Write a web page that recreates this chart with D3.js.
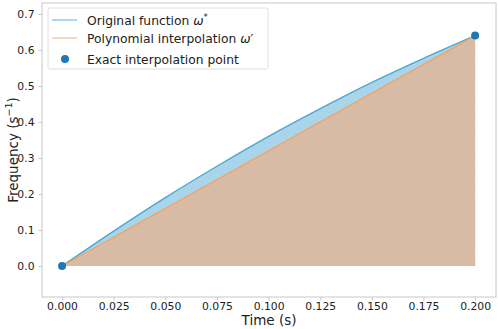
<!DOCTYPE html>
<html lang="en">
<head>
	<meta charset="utf-8">
	<title>Interpolation</title>
	<script src="https://d3js.org/d3.v7.min.js"></script>
	<style>
		body { margin: 0; background: #fff; }
		text { font-family: "DejaVu Sans", sans-serif; }
	</style>
</head>
<body>
	<div id="chart"></div>
	<script>
		// time samples (s) and the original function values
		const times = [0, 0.025, 0.05, 0.075, 0.1, 0.125, 0.15, 0.175, 0.2];
		const original = [0, 0.097, 0.19, 0.277, 0.36, 0.437, 0.51, 0.577, 0.64];
		// polynomial interpolation (through the two exact points)
		const interpTimes = [0, 0.2];
		const interp = [0, 0.64];
		const pointTimes = [0, 0.2];
		const pointValues = [0, 0.64];
		const xTicks = [0, 0.025, 0.05, 0.075, 0.1, 0.125, 0.15, 0.175, 0.2];
		const yTicks = [0, 0.1, 0.2, 0.3, 0.4, 0.5, 0.6, 0.7];

		let width = 498, height = 329;
		let mLeft = 42, mRight = 496, mTop = 3, mBottom = 297;

		let svg = d3.select("#chart").append("svg")
			.attr("width", width)
			.attr("height", height);

		let x = d3.scaleLinear().domain([-0.0097, 0.2101]).range([mLeft, mRight]);
		let y = d3.scaleLinear().domain([-0.0861, 0.7306]).range([mBottom, mTop]);

		let origData = times.map((t, i) => ({ t: t, v: original[i] }));
		let interpData = interpTimes.map((t, i) => ({ t: t, v: interp[i] }));

		// filled areas
		svg.append("path")
			.datum(origData)
			.attr("fill", "#a9d4ea")
			.attr("d", d3.area().x(d => x(d.t)).y0(y(0)).y1(d => y(d.v)).curve(d3.curveMonotoneX));
		svg.append("path")
			.datum(interpData)
			.attr("fill", "#d8bba5")
			.attr("d", d3.area().x(d => x(d.t)).y0(y(0)).y1(d => y(d.v)));

		// lines
		svg.append("path")
			.datum(origData)
			.attr("fill", "none")
			.attr("stroke", "#4aa6d3")
			.attr("stroke-width", 1.3)
			.attr("d", d3.line().x(d => x(d.t)).y(d => y(d.v)).curve(d3.curveMonotoneX));
		svg.append("path")
			.datum(interpData)
			.attr("fill", "none")
			.attr("stroke", "#f4a261")
			.attr("stroke-width", 1.3)
			.attr("d", d3.line().x(d => x(d.t)).y(d => y(d.v)));

		// exact points
		svg.selectAll(".pt")
			.data(pointTimes)
			.enter()
			.append("circle")
			.attr("cx", (d) => x(d))
			.attr("cy", (d, i) => y(pointValues[i]))
			.attr("r", 4)
			.attr("fill", "#1f77b4");

		// frame
		svg.append("rect")
			.attr("x", mLeft).attr("y", mTop)
			.attr("width", mRight - mLeft).attr("height", mBottom - mTop)
			.attr("fill", "none")
			.attr("stroke", "#c8c8c8")
			.attr("stroke-width", 1);

		// axes
		let xAxis = svg.append("g")
			.attr("transform", "translate(0," + mBottom + ")")
			.call(d3.axisBottom(x).tickValues(xTicks).tickFormat(d3.format(".3f")).tickSize(3.5).tickPadding(2));
		let yAxis = svg.append("g")
			.attr("transform", "translate(" + mLeft + ",0)")
			.call(d3.axisLeft(y).tickValues(yTicks).tickFormat(d3.format(".1f")).tickSize(3.5).tickPadding(4));
		[xAxis, yAxis].forEach(a => {
			a.select(".domain").remove();
			a.selectAll("line").attr("stroke", "#c8c8c8");
			a.selectAll("text").attr("font-family", "DejaVu Sans").attr("font-size", 10.8).attr("fill", "#222");
		});

		// axis labels
		svg.append("text")
			.attr("x", (mLeft + mRight) / 2).attr("y", 325)
			.attr("text-anchor", "middle")
			.attr("font-size", 13.5)
			.attr("fill", "#222")
			.text("Time (s)");
		let yl = svg.append("text")
			.attr("transform", "translate(18," + 150 + ") rotate(-90)")
			.attr("text-anchor", "middle")
			.attr("font-size", 13.5)
			.attr("fill", "#222");
		yl.append("tspan").text("Frequency (s");
		yl.append("tspan").attr("dy", -6).attr("font-size", 9.5).text("\u22121");
		yl.append("tspan").attr("dy", 6).text(")");

		// legend
		let lg = svg.append("g");
		lg.append("rect")
			.attr("x", 48).attr("y", 8).attr("width", 220).attr("height", 61).attr("rx", 2)
			.attr("fill", "#fff").attr("fill-opacity", 0.8)
			.attr("stroke", "#e0e0e0");
		lg.append("line").attr("x1", 52).attr("x2", 77).attr("y1", 20).attr("y2", 20)
			.attr("stroke", "#7fc3e4").attr("stroke-width", 1.3);
		lg.append("line").attr("x1", 52).attr("x2", 77).attr("y1", 38).attr("y2", 38)
			.attr("stroke", "#f8c28f").attr("stroke-width", 1.3);
		lg.append("circle").attr("cx", 65).attr("cy", 59).attr("r", 4).attr("fill", "#1f77b4");
		let t1 = lg.append("text").attr("x", 87).attr("y", 24.5).attr("font-size", 12.3).attr("fill", "#222");
		t1.append("tspan").text("Original function ");
		t1.append("tspan").attr("font-style", "italic").text("\u03c9");
		t1.append("tspan").attr("dy", -5).attr("font-size", 8.5).text("*");
		let t2 = lg.append("text").attr("x", 87).attr("y", 43).attr("font-size", 12.3).attr("fill", "#222");
		t2.append("tspan").text("Polynomial interpolation ");
		t2.append("tspan").attr("font-style", "italic").text("\u03c9\u2032");
		lg.append("text").attr("x", 87).attr("y", 64).attr("font-size", 12.3).attr("fill", "#222")
			.text("Exact interpolation point");
	</script>
</body>
</html>
